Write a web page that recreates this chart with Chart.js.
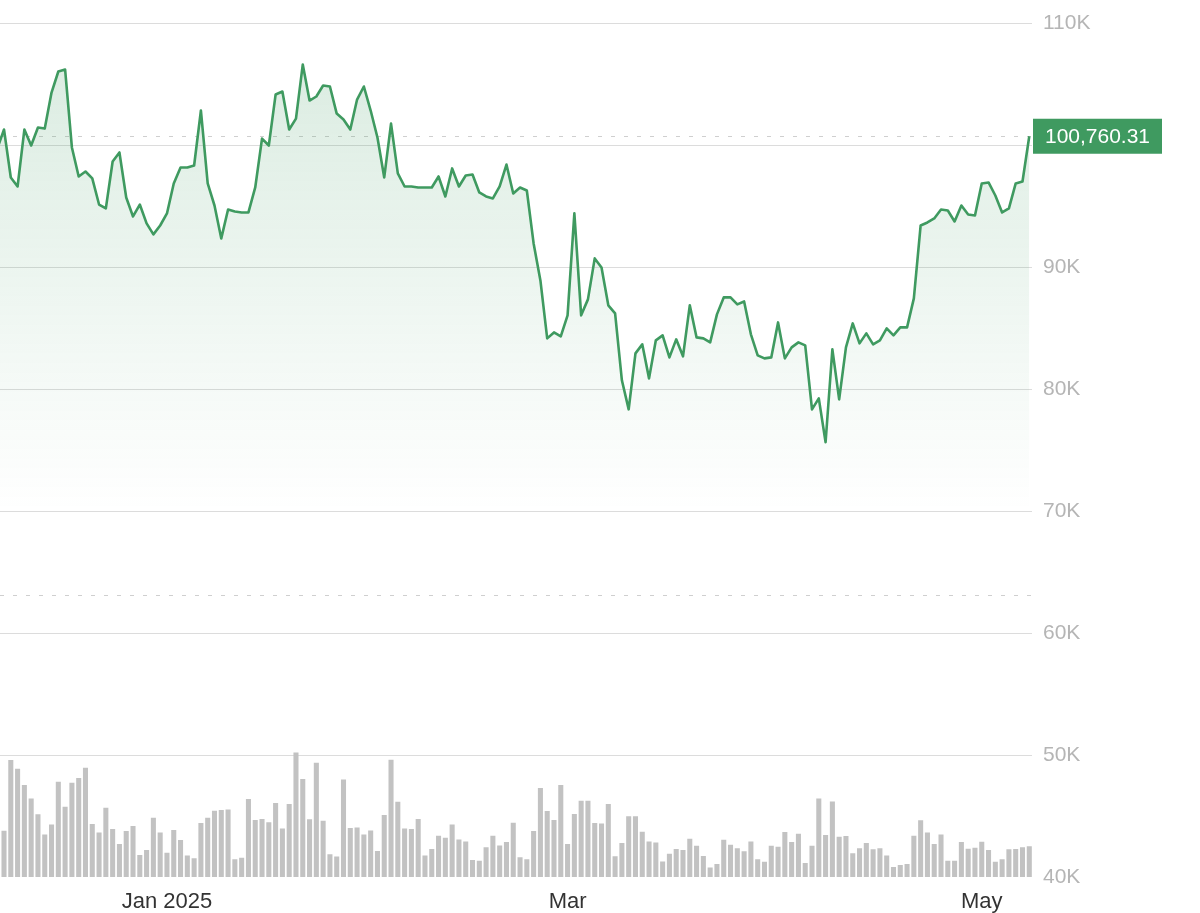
<!DOCTYPE html>
<html>
<head>
<meta charset="utf-8">
<script src="https://cdn.jsdelivr.net/npm/chart.js@4"></script>
<style>
  html, body { margin: 0; padding: 0; background: #fff; }
  canvas { display: block; }
</style>
</head>
<body>
<canvas id="chart" width="1200" height="913"></canvas>
<script>
// daily closes, Dec 7 2024 -> May 8 2025 (first one sits just off the left edge)
const prices = [
  99750, 101310, 97380, 96640, 101310, 100000, 101480, 101390, 104340, 106070,
  106230, 99840, 97460, 97870, 97300, 95160, 94840, 98690, 99430, 95740,
  94180, 95160, 93610, 92710, 93440, 94430, 96890, 98200, 98200, 98360,
  102870, 96890, 95080, 92380, 94750, 94590, 94510, 94510, 96560, 100570,
  100000, 104180, 104430, 101310, 102210, 106640, 103690, 104020, 104920, 104840,
  102620, 102130, 101310, 103770, 104840, 102870, 100660, 97380, 101800, 97710,
  96640, 96640, 96560, 96560, 96560, 97460, 95820, 98120, 96640, 97540,
  97620, 96150, 95820, 95660, 96640, 98440, 96070, 96560, 96310, 91970,
  88930, 84180, 84670, 84340, 86070, 94430, 86070, 87380, 90740, 90000,
  86890, 86230, 80740, 78360, 82950, 83690, 80900, 84020, 84430, 82620,
  84100, 82710, 86890, 84260, 84180, 83850, 86150, 87540, 87540, 86970,
  87210, 84510, 82790, 82540, 82620, 85490, 82540, 83440, 83850, 83610,
  78360, 79260, 75660, 83280, 79180, 83440, 85410, 83770, 84590, 83690,
  84020, 85000, 84430, 85080, 85080, 87460, 93440, 93690, 94020, 94750,
  94670, 93770, 95080, 94340, 94260, 96890, 96970, 95900, 94510, 94840,
  96890, 97050, 100760.31
]
const firstDay = -1

// daily volume (billions), Dec 8 -> May 8
const volumes = [
  32.3, 82.0, 75.9, 64.4, 55.0, 43.8, 29.7, 36.7, 66.7, 49.2,
  66.0, 69.3, 76.6, 37.0, 31.1, 48.5, 33.5, 23.0, 32.1, 35.6,
  15.2, 18.8, 41.5, 31.1, 16.9, 32.8, 25.8, 14.8, 12.9, 37.7,
  41.5, 46.4, 46.9, 47.3, 12.2, 13.3, 54.6, 39.8, 40.5, 38.2,
  51.8, 33.9, 51.1, 87.3, 68.6, 40.3, 80.1, 39.3, 15.7, 14.1,
  68.4, 34.2, 34.6, 29.7, 32.5, 18.1, 43.4, 82.2, 52.7, 33.9,
  33.5, 40.5, 14.8, 19.5, 28.8, 27.4, 36.7, 26.2, 24.8, 11.7,
  11.2, 20.6, 28.8, 22.0, 24.4, 37.9, 13.6, 12.2, 32.1, 62.3,
  46.2, 39.8, 64.4, 23.0, 44.1, 53.4, 53.4, 37.7, 37.4, 51.1,
  14.3, 23.7, 42.4, 42.4, 31.6, 24.8, 24.1, 10.7, 16.2, 19.5,
  18.8, 26.7, 21.8, 14.5, 6.5, 8.9, 26.0, 22.5, 19.9, 17.8,
  24.8, 12.2, 10.5, 21.8, 21.1, 31.4, 24.4, 30.2, 9.6, 21.8,
  55.0, 29.3, 52.9, 28.1, 28.6, 16.4, 19.9, 23.7, 19.2, 19.9,
  14.8, 6.8, 8.2, 8.9, 28.8, 39.6, 31.1, 23.0, 29.7, 11.2,
  11.2, 24.4, 19.7, 20.4, 24.6, 18.8, 10.5, 12.2, 19.2, 19.5,
  20.6, 21.3
]

const tickDays = [24, 83, 144]
const tickLabels = ['Jan 2025', 'Mar', 'May']
const lastPrice = prices.at(-1)
const lowMark = 63100

const green = '#3f9a60'
const font = "'Liberation Sans', Arial, sans-serif"

const priceData = prices.map((p, i) => ({ x: firstDay + i, y: p }))
const volData = volumes.map((v, i) => ({ x: i, y: v }))

const extras = {
  id: 'extras',
  beforeDatasetsDraw(chart) {
    const { ctx, chartArea, scales } = chart
    ctx.save()
    ctx.strokeStyle = '#cfcfcf'
    ctx.lineWidth = 1
    ctx.setLineDash([4, 9])
    for (const v of [lastPrice, lowMark]) {
      const y = Math.round(scales.y.getPixelForValue(v)) + 0.5
      ctx.beginPath()
      ctx.moveTo(chartArea.left, y)
      ctx.lineTo(chartArea.right, y)
      ctx.stroke()
    }
    ctx.restore()
  },
  afterDraw(chart) {
    const { ctx, chartArea, scales } = chart
    const y = scales.y.getPixelForValue(lastPrice)
    const x = chartArea.right + 1
    ctx.save()
    ctx.fillStyle = green
    ctx.fillRect(x, y - 17.5, 129, 35)
    ctx.fillStyle = '#fff'
    ctx.font = '21px ' + font
    ctx.textBaseline = 'middle'
    ctx.textAlign = 'center'
    ctx.fillText(lastPrice.toLocaleString('en-US', { minimumFractionDigits: 2 }), x + 64.5, y + 1)
    ctx.restore()
  }
}

new Chart(document.getElementById('chart'), {
  data: {
    datasets: [
      {
        type: 'line',
        data: priceData,
        yAxisID: 'y',
        borderColor: green,
        borderWidth: 2.6,
        borderJoinStyle: 'round',
        pointRadius: 0,
        tension: 0,
        fill: 'start',
        backgroundColor: (c) => {
          const { chart } = c
          const area = chart.chartArea
          if (!area) return 'rgba(63,154,96,0.12)'
          const bottom = chart.scales.y.getPixelForValue(70000)
          const g = chart.ctx.createLinearGradient(0, area.top, 0, bottom)
          g.addColorStop(0, 'rgba(63,154,96,0.20)')
          g.addColorStop(1, 'rgba(63,154,96,0)')
          return g
        },
        order: 1
      },
      {
        type: 'bar',
        data: volData,
        yAxisID: 'yv',
        backgroundColor: '#c2c2c2',
        barThickness: 4.4,
        order: 2
      }
    ]
  },
  options: {
    responsive: false,
    animation: false,
    layout: { padding: { top: 23, left: 0, right: 0, bottom: 0 } },
    plugins: { legend: { display: false }, tooltip: { enabled: false } },
    scales: {
      x: {
        type: 'linear',
        offset: false,
        min: -0.59,
        max: 151.4,
        grid: { display: false },
        border: { display: false },
        afterBuildTicks: (s) => { s.ticks = tickDays.map(v => ({ value: v })) },
        afterFit: (s) => { s.height = 36 },
        ticks: {
          autoSkip: false,
          maxRotation: 0,
          padding: 4,
          color: '#333',
          font: { family: font, size: 22 },
          callback: (v) => tickLabels[tickDays.indexOf(v)]
        }
      },
      y: {
        position: 'right',
        min: 40000,
        max: 110000,
        afterFit: (s) => { s.width = 168 },
        border: { display: false },
        grid: {
          drawTicks: false,
          color: (c) => c.tick && c.tick.value === 40000 ? 'rgba(0,0,0,0)' : '#dcdcdc'
        },
        ticks: {
          stepSize: 10000,
          padding: 11,
          color: '#b5b5b5',
          font: { family: font, size: 21 },
          callback: (v) => v / 1000 + 'K'
        }
      },
      yv: {
        display: false,
        min: 0,
        max: 600
      }
    }
  },
  plugins: [extras]
})
</script>
</body>
</html>
